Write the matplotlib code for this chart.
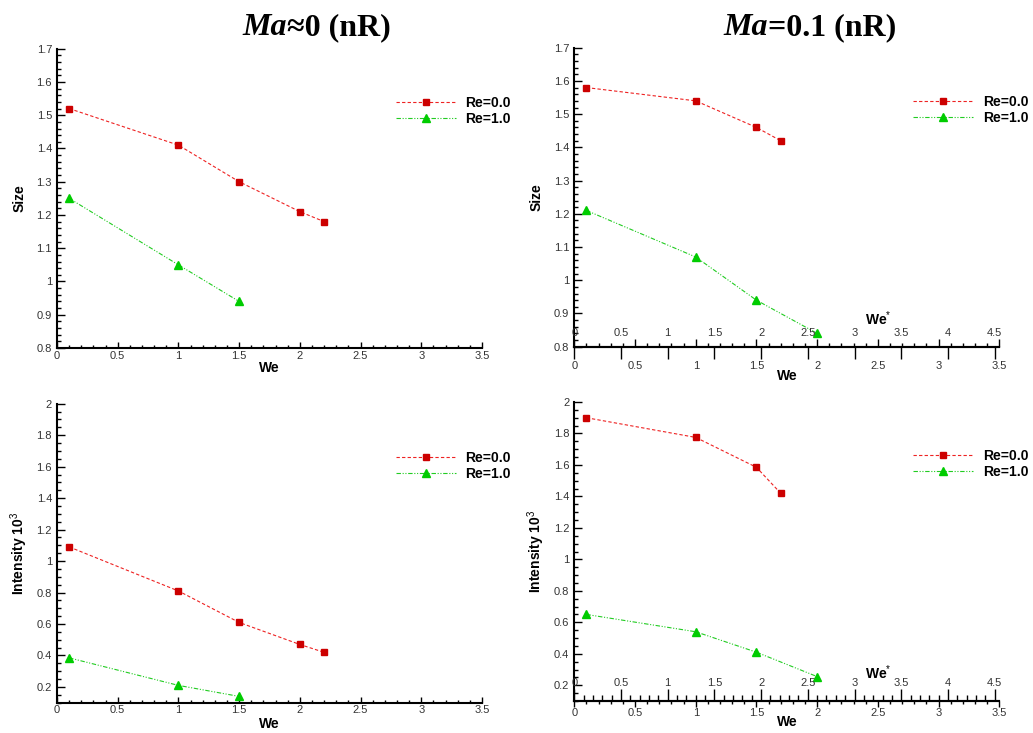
import matplotlib
matplotlib.use('Agg')
import matplotlib.pyplot as plt
from matplotlib.ticker import MultipleLocator, FuncFormatter

plt.rcParams['font.family'] = ['Liberation Sans', 'DejaVu Sans']
plt.rcParams['mathtext.fontset'] = 'custom'
plt.rcParams['mathtext.rm'] = 'Liberation Sans'
plt.rcParams['mathtext.it'] = 'Liberation Sans:italic'
plt.rcParams['mathtext.bf'] = 'Liberation Sans:bold'

# ---------------- data ----------------
titles = [("Ma", "≈0 (nR)"), ("Ma", "=0.1 (nR)")]
series_labels = ["Re=0.0", "Re=1.0"]

# Ma ~ 0
we_ma0_re0 = [0.1, 1.0, 1.5, 2.0, 2.2]
we_ma0_re1 = [0.1, 1.0, 1.5]
size_ma0_re0 = [1.52, 1.41, 1.30, 1.21, 1.18]
size_ma0_re1 = [1.25, 1.05, 0.94]
int_ma0_re0 = [1.09, 0.81, 0.61, 0.47, 0.42]
int_ma0_re1 = [0.385, 0.21, 0.14]

# Ma = 0.1
we_ma01_re0 = [0.1, 1.0, 1.5, 1.7]
we_ma01_re1 = [0.1, 1.0, 1.5, 2.0]
size_ma01_re0 = [1.58, 1.54, 1.46, 1.42]
size_ma01_re1 = [1.21, 1.07, 0.94, 0.84]
int_ma01_re0 = [1.90, 1.775, 1.585, 1.42]
int_ma01_re1 = [0.65, 0.54, 0.41, 0.255]

# ---------------- style ----------------
RED = '#cc0000'
RED_LINE = '#ee2222'
GREEN = '#00cc00'
GREEN_LINE = '#22cc22'
TICKCOL = '#333333'

W, H = 1033, 733
fig = plt.figure(figsize=(W / 100, H / 100), dpi=100)
fig.patch.set_facecolor('white')

fmt = FuncFormatter(lambda v, p: f"{v:g}")


def px_axes(l, t, r, b):
    return fig.add_axes([l / W, 1 - b / H, (r - l) / W, (b - t) / H])


def style_axes(ax, ylim, ymaj, ymin, ylabel, xlabel_y, xdir, xpad, xmaj_len, xmin_len):
    ax.set_xlim(0, 3.5)
    ax.set_ylim(*ylim)
    for s in ['top', 'right']:
        ax.spines[s].set_visible(False)
    for s in ['left', 'bottom']:
        ax.spines[s].set_linewidth(1.5)
    ax.xaxis.set_major_locator(MultipleLocator(0.5))
    ax.xaxis.set_minor_locator(MultipleLocator(0.1))
    ax.yaxis.set_major_locator(MultipleLocator(ymaj))
    ax.yaxis.set_minor_locator(MultipleLocator(ymin))
    ax.xaxis.set_major_formatter(fmt)
    ax.yaxis.set_major_formatter(fmt)
    ax.tick_params(axis='y', which='major', direction='in', length=5.5, width=1,
                   pad=3.6, labelsize=8, labelcolor=TICKCOL)
    ax.tick_params(axis='y', which='minor', direction='in', length=3, width=1)
    ax.tick_params(axis='x', which='major', direction=xdir, length=xmaj_len, width=1,
                   pad=xpad, labelsize=8, labelcolor=TICKCOL)
    ax.tick_params(axis='x', which='minor', direction=xdir, length=xmin_len, width=1)
    ax.set_ylabel(ylabel, fontsize=10, fontweight='bold')
    ax.yaxis.set_label_coords(-0.089, 0.5)
    ax.yaxis.label.set_verticalalignment('center')
    ax.set_xlabel('We', fontsize=10, fontweight='bold')
    ax.xaxis.set_label_coords(0.5, xlabel_y)
    ax.xaxis.label.set_verticalalignment('center')


def draw(ax, x0, y0, x1, y1):
    ax.plot(x0, y0, color=RED_LINE, lw=0.8, dashes=(3, 2), marker='s', ms=5,
            mfc=RED, mec=RED, label=series_labels[0], clip_on=False)
    ax.plot(x1, y1, color=GREEN_LINE, lw=0.8, dashes=(4, 1.5, 1, 1.5, 1, 1.5),
            marker='^', ms=5.2, mfc=GREEN, mec=GREEN, label=series_labels[1], clip_on=False)
    ax.legend(loc='upper left', bbox_to_anchor=(0.798, 0.842), frameon=False,
              prop={'weight': 'bold', 'size': 10}, handlelength=4.3,
              handletextpad=0.7, labelspacing=0.12, borderpad=0,
              borderaxespad=0, numpoints=1)


def add_westar(ax, direction, maj_len, min_len, pad, label_y):
    ax2 = ax.twiny()
    ax2.set_xlim(0, 4.55)
    ax2.spines['top'].set_position(('axes', 0))
    ax2.spines['top'].set_linewidth(1.5)
    for s in ['left', 'right', 'bottom']:
        ax2.spines[s].set_visible(False)
    ax2.xaxis.set_major_locator(MultipleLocator(0.5))
    ax2.xaxis.set_minor_locator(MultipleLocator(0.1))
    ax2.xaxis.set_major_formatter(fmt)
    ax2.tick_params(axis='x', which='major', direction=direction, length=maj_len,
                    width=1, pad=pad, labelsize=8, labelcolor=TICKCOL)
    ax2.tick_params(axis='x', which='minor', direction=direction, length=min_len, width=1)
    ax2.set_xlabel('We$^{*}$', fontsize=10, fontweight='bold')
    ax2.xaxis.set_label_coords(0.7146, label_y)
    ax2.xaxis.label.set_verticalalignment('center')
    return ax2


# top-left
ax_tl = px_axes(57, 48.7, 482, 348)
draw(ax_tl, we_ma0_re0, size_ma0_re0, we_ma0_re1, size_ma0_re1)
style_axes(ax_tl, (0.8, 1.7), 0.1, 0.02, 'Size', -0.067, 'in', 2, 4.5, 2.5)

# bottom-left
ax_bl = px_axes(57, 403.7, 482, 702.7)
draw(ax_bl, we_ma0_re0, int_ma0_re0, we_ma0_re1, int_ma0_re1)
style_axes(ax_bl, (0.1, 2.0), 0.2, 0.05, 'Intensity 10$^{3}$', -0.071, 'in', 2, 4.5, 2.5)

# top-right
ax_tr = px_axes(574.3, 47.7, 999.3, 346.7)
draw(ax_tr, we_ma01_re0, size_ma01_re0, we_ma01_re1, size_ma01_re1)
style_axes(ax_tr, (0.8, 1.7), 0.1, 0.02, 'Size', -0.098, 'in', 10, 5.5, 3)
add_westar(ax_tr, 'in', 8.5, 0, 6, 0.093)

# bottom-right
ax_br = px_axes(574.3, 402, 999.3, 701)
draw(ax_br, we_ma01_re0, int_ma01_re0, we_ma01_re1, int_ma01_re1)
style_axes(ax_br, (0.1, 2.0), 0.2, 0.05, 'Intensity 10$^{3}$', -0.069, 'out', 0.5, 4.3, 2.2)
add_westar(ax_br, 'out', 8.6, 4.3, 0.5, 0.095)

# titles (italic "Ma" followed by bold upright text)
renderer = fig.canvas.get_renderer()


def place_title(xc, parts):
    items = []
    total = 0.0
    for s, st in zip(parts, ['italic', 'normal']):
        t = fig.text(0, 0, s, fontsize=23, fontweight='bold', fontstyle=st,
                     family=['Liberation Serif', 'DejaVu Serif'],
                     ha='left', va='baseline')
        w = t.get_window_extent(renderer).width
        items.append((t, w))
        total += w
    x = xc - total / 2
    for t, w in items:
        t.set_position((x / W, 1 - 35 / H))
        x += w


place_title(317, titles[0])
place_title(810, titles[1])

fig.savefig('out.png', dpi=100, facecolor='white')
